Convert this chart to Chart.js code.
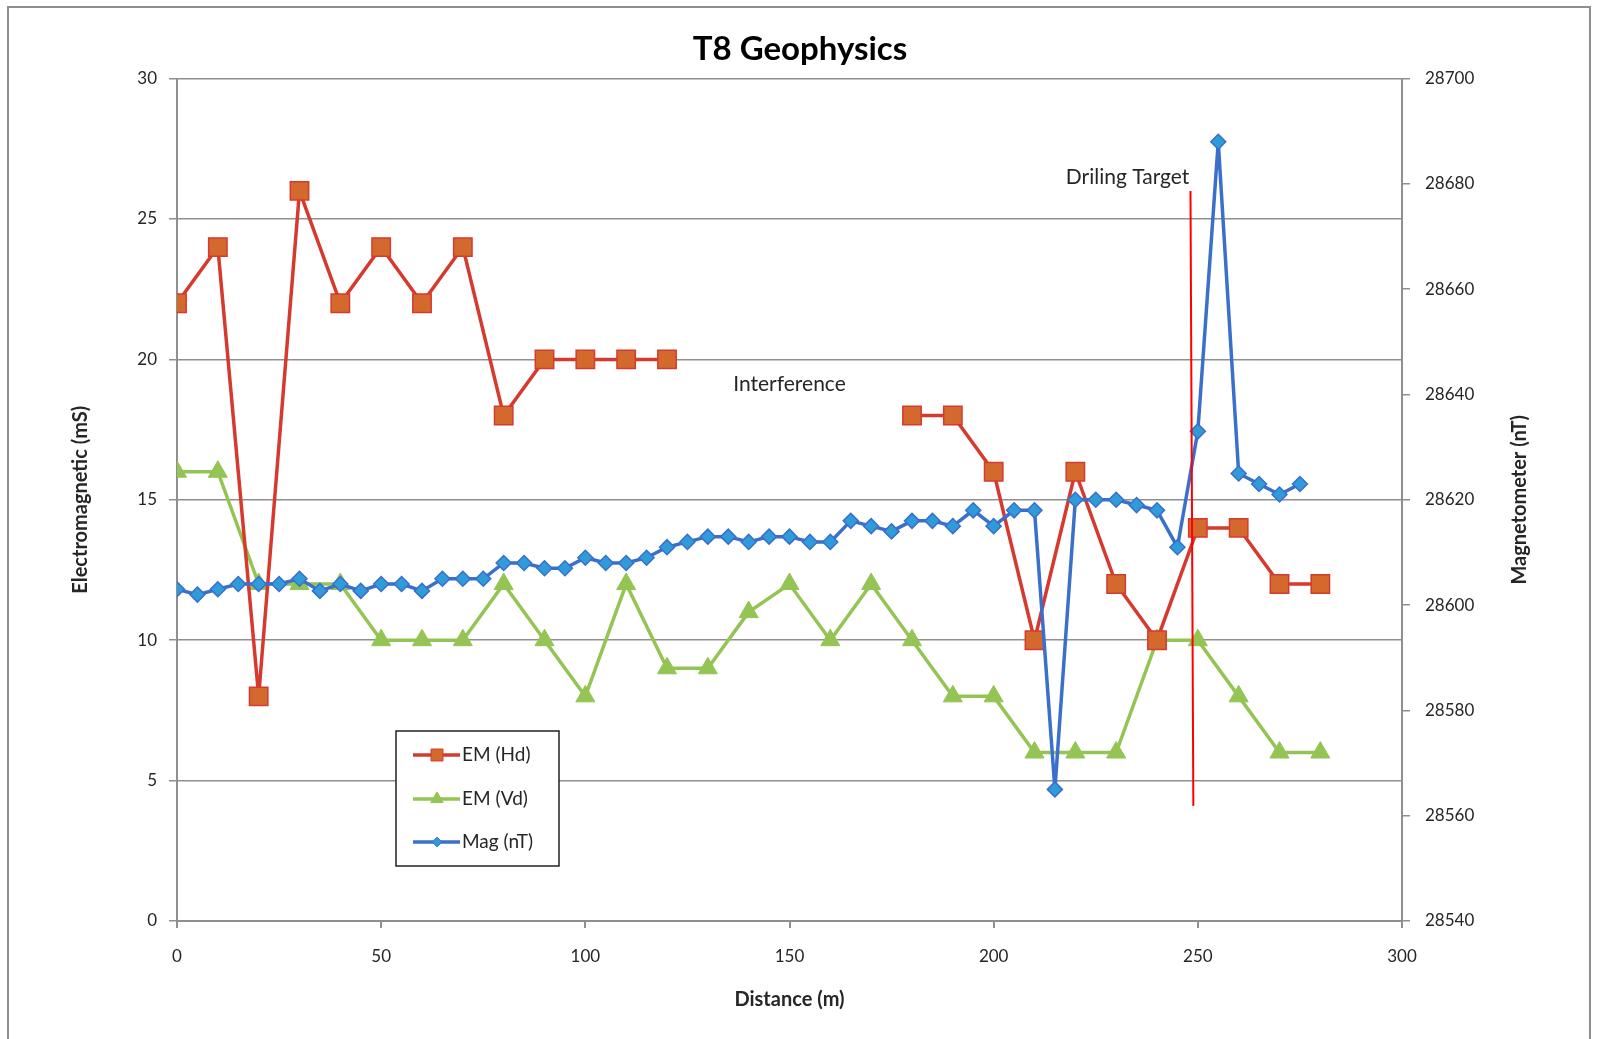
<!DOCTYPE html>
<html>
<head>
<meta charset="utf-8">
<title>T8 Geophysics</title>
<script src="https://cdn.jsdelivr.net/npm/chart.js@4.4.0/dist/chart.umd.min.js"></script>
<style>
  html, body { margin: 0; padding: 0; background: #fff; }
  #wrap { position: relative; width: 1600px; height: 1039px; overflow: hidden; }
  #frame { position: absolute; left: 7px; top: 6px; width: 1580px; height: 1100px; border: 2px solid #8e8e8e; }
  #geoChart { position: absolute; left: 0; top: 0; }
</style>
</head>
<body>
<div id="wrap">
  <div id="frame"></div>
  <canvas id="geoChart" width="1600" height="1039"></canvas>
</div>
<script>
// EM readings every 10 m (null = no reading, interference zone)
const emDistance = [0, 10, 20, 30, 40, 50, 60, 70, 80, 90, 100, 110, 120, 130, 140,
                    150, 160, 170, 180, 190, 200, 210, 220, 230, 240, 250, 260, 270, 280];
const emHd = [22, 24, 8, 26, 22, 24, 22, 24, 18, 20, 20, 20, 20, null, null,
              null, null, null, 18, 18, 16, 10, 16, 12, 10, 14, 14, 12, 12];
const emVd = [16, 16, 12, 12, 12, 10, 10, 10, 12, 10, 8, 12, 9, 9, 11,
              12, 10, 12, 10, 8, 8, 6, 6, 6, 10, 10, 8, 6, 6];

// Magnetometer readings every 5 m
const magDistance = [0, 5, 10, 15, 20, 25, 30, 35, 40, 45, 50, 55, 60, 65, 70, 75, 80, 85, 90, 95,
                     100, 105, 110, 115, 120, 125, 130, 135, 140, 145, 150, 155, 160, 165, 170, 175,
                     180, 185, 190, 195, 200, 205, 210, 215, 220, 225, 230, 235, 240, 245, 250, 255,
                     260, 265, 270, 275];
const magValues = [28603, 28602, 28603, 28604, 28604, 28604, 28605, 28602.7, 28604, 28602.7,
                   28604, 28604, 28602.7, 28605, 28605, 28605, 28608, 28608, 28607, 28607,
                   28609, 28608, 28608, 28609, 28611, 28612, 28613, 28613, 28612, 28613,
                   28613, 28612, 28612, 28616, 28615, 28614, 28616, 28616, 28615, 28618,
                   28615, 28618, 28618, 28565, 28620, 28620, 28620, 28619, 28618, 28611,
                   28633, 28688, 28625, 28623, 28621, 28623];

// drilling target marker line (distance, mS)
const targetX = [248.2, 248.9];
const targetY = [26.0, 4.1];

// text notes on the plot
const noteText = ['Interference', 'Driling Target'];
const noteX = [150, 232.8];
const noteY = [19.1, 26.5];

const seriesNames = ['EM (Hd)', 'EM (Vd)', 'Mag (nT)'];
const distanceTicks = [0, 300, 50];
const emTicks = [0, 30, 5];
const magTicks = [28540, 28700, 20];

const gridGrey = '#8f8f8f';
const textDark = '#262626';

function toPoints(xs, ys) {
    return xs.map((x, i) => ({ x: x, y: ys[i] }));
}

// draws the notes, right axis title and the boxed legend
const notesPlugin = {
    id: 'notes',
    afterDraw(chart) {
        const ctx = chart.ctx;
        const xs = chart.scales.x;
        const ys = chart.scales.y;
        ctx.save();
        ctx.fillStyle = textDark;
        ctx.font = '21px Lato';
        ctx.textAlign = 'center';
        ctx.textBaseline = 'middle';
        noteText.forEach((t, i) => {
            ctx.fillText(t, xs.getPixelForValue(noteX[i]), ys.getPixelForValue(noteY[i]));
        });

        // right axis title, reads bottom to top like the left one
        ctx.save();
        ctx.translate(1520, (chart.chartArea.top + chart.chartArea.bottom) / 2);
        ctx.rotate(-Math.PI / 2);
        ctx.font = 'bold 20px Lato';
        ctx.fillText('Magnetometer (nT)', 0, 0);
        ctx.restore();

        // legend box
        const bx = 396, by = 731, bw = 163, bh = 135;
        ctx.fillStyle = '#fff';
        ctx.fillRect(bx, by, bw, bh);
        ctx.strokeStyle = '#222';
        ctx.lineWidth = 1.5;
        ctx.strokeRect(bx, by, bw, bh);
        const rows = [755, 799, 842];
        chart.data.datasets.slice(0, 3).forEach((ds, i) => {
            const y = rows[i];
            ctx.strokeStyle = ds.borderColor;
            ctx.lineWidth = 3.5;
            ctx.beginPath();
            ctx.moveTo(413, y);
            ctx.lineTo(460, y);
            ctx.stroke();
            ctx.fillStyle = ds.pointBackgroundColor;
            ctx.strokeStyle = ds.pointBorderColor;
            ctx.lineWidth = 1;
            Chart.helpers.drawPoint(ctx, {
                pointStyle: ds.pointStyle,
                radius: ds.pointRadius * 0.65,
                rotation: 0,
                borderWidth: 1
            }, 437, y);
            ctx.fillStyle = textDark;
            ctx.font = '19px Lato';
            ctx.textAlign = 'left';
            ctx.fillText(seriesNames[i], 462, y);
        });
        ctx.restore();
    }
};

const ctx = document.getElementById('geoChart').getContext('2d');
const geoChart = new Chart(ctx, {
    type: 'line',
    data: {
        datasets: [
            {
                label: seriesNames[0],
                data: toPoints(emDistance, emHd),
                yAxisID: 'y',
                borderColor: '#d63a2f',
                borderWidth: 3.5,
                pointStyle: 'rect',
                pointRadius: 13,
                pointBackgroundColor: '#d4692e',
                pointBorderColor: '#d63a2f',
                pointBorderWidth: 1.5,
                tension: 0,
                order: 2
            },
            {
                label: seriesNames[1],
                data: toPoints(emDistance, emVd),
                yAxisID: 'y',
                borderColor: '#94c453',
                borderWidth: 3.5,
                pointStyle: 'triangle',
                pointRadius: 11,
                pointBackgroundColor: '#94c453',
                pointBorderColor: '#94c453',
                pointBorderWidth: 1,
                tension: 0,
                order: 3
            },
            {
                label: seriesNames[2],
                data: toPoints(magDistance, magValues),
                yAxisID: 'y1',
                borderColor: '#3b6fcc',
                borderWidth: 3.5,
                pointStyle: 'rectRot',
                pointRadius: 7.5,
                pointBackgroundColor: '#2f9bd8',
                pointBorderColor: '#3b6fcc',
                pointBorderWidth: 1.5,
                tension: 0,
                order: 1
            },
            {
                label: 'target',
                data: toPoints(targetX, targetY),
                yAxisID: 'y',
                borderColor: '#ff0000',
                borderWidth: 2,
                pointRadius: 0,
                order: 0
            }
        ]
    },
    options: {
        responsive: false,
        animation: false,
        layout: { padding: 0 },
        plugins: {
            legend: { display: false },
            tooltip: { enabled: false },
            title: {
                display: true,
                text: 'T8 Geophysics',
                color: '#000',
                font: { family: 'Lato', size: 33, weight: 'bold' },
                padding: { top: 30, bottom: 9 }
            }
        },
        scales: {
            x: {
                type: 'linear',
                min: distanceTicks[0],
                max: distanceTicks[1],
                ticks: { stepSize: distanceTicks[2], color: textDark, padding: 18,
                         font: { family: 'Lato', size: 17 } },
                grid: { drawOnChartArea: false, color: gridGrey, tickLength: 7, lineWidth: 2 },
                border: { color: gridGrey, width: 2 },
                title: {
                    display: true,
                    text: 'Distance (m)',
                    color: textDark,
                    font: { family: 'Lato', size: 20, weight: 'bold' },
                    padding: { top: 0, bottom: 27 }
                },
                afterFit(scale) { scale.height = 118; }
            },
            y: {
                position: 'left',
                min: emTicks[0],
                max: emTicks[1],
                ticks: { stepSize: emTicks[2], color: textDark, padding: 12,
                         font: { family: 'Lato', size: 17 } },
                grid: { color: gridGrey, lineWidth: 1.5, tickLength: 8 },
                border: { color: gridGrey, width: 2 },
                title: {
                    display: true,
                    text: 'Electromagnetic (mS)',
                    color: textDark,
                    font: { family: 'Lato', size: 20, weight: 'bold' },
                    padding: { top: 69, bottom: 0 }
                },
                afterFit(scale) { scale.width = 177; }
            },
            y1: {
                position: 'right',
                min: magTicks[0],
                max: magTicks[1],
                ticks: { stepSize: magTicks[2], color: textDark, padding: 15,
                         font: { family: 'Lato', size: 17 },
                         callback: v => String(v) },
                grid: { drawOnChartArea: false, color: gridGrey, lineWidth: 1.5, tickLength: 8 },
                border: { color: gridGrey, width: 2 },
                afterFit(scale) { scale.width = 198; }
            }
        }
    },
    plugins: [notesPlugin]
});
</script>
</body>
</html>
